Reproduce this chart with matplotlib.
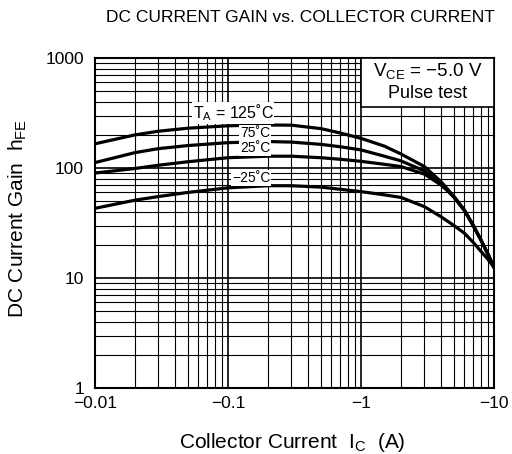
import matplotlib
matplotlib.use("Agg")
import matplotlib.pyplot as plt
from matplotlib.patches import Rectangle

plt.rcParams['font.family'] = ['Liberation Sans', 'DejaVu Sans']
plt.rcParams['mathtext.fontset'] = 'custom'
plt.rcParams['mathtext.rm'] = 'Liberation Sans'
plt.rcParams['mathtext.it'] = 'Liberation Sans'

# Collector current magnitude (A); axis labels shown as negative values
ic = [0.01, 0.02, 0.03, 0.05, 0.1, 0.2, 0.3, 0.5, 0.7, 1.0, 1.5, 2.0, 3.0, 4.0, 5.0, 6.0, 7.0, 8.0, 9.0, 10.0]
hfe_125 = [166, 200, 216, 230, 242, 246, 245, 228, 208, 186, 158, 134, 103, 75, 55, 41.5, 29.5, 22, 16.5, 12.5]
hfe_75 = [112, 138, 150, 160, 170, 174, 172, 164, 156, 146, 128, 116, 94, 72, 54, 41, 30, 22, 16.5, 12.5]
hfe_25 = [90, 99, 106, 114, 124, 128, 128, 124, 120, 115, 108, 103, 88, 70, 55, 41, 30, 22, 16.5, 12.5]
hfe_m25 = [43, 51, 55, 60, 66, 69, 69, 67, 64, 61, 57, 54, 44.5, 36, 30, 25.5, 21, 17.4, 14.8, 12.5]

x_ticks = [0.01, 0.1, 1, 10]
x_ticklabels = ["\u22120.01", "\u22120.1", "\u22121", "\u221210"]
y_ticks = [1, 10, 100, 1000]
y_ticklabels = ["1", "10", "100", "1000"]

fig = plt.figure(figsize=(5.12, 4.54), dpi=100)
ax = fig.add_axes([95/512, 1-388/454, (494-95)/512, (388-58)/454])
ax.set_xscale('log')
ax.set_yscale('log')
ax.set_xlim(0.01, 10)
ax.set_ylim(1, 1000)

ax.grid(True, which='major', color='black', lw=1.2)
ax.grid(True, which='minor', color='black', lw=0.8)
ax.set_axisbelow(True)
ax.set_xticks(x_ticks)
ax.set_xticklabels(x_ticklabels)
ax.set_yticks(y_ticks)
ax.set_yticklabels(y_ticklabels)
ax.tick_params(which='both', length=0, labelsize=12.5)
ax.tick_params(axis='y', pad=8)
ax.tick_params(axis='x', pad=6)
for s in ax.spines.values():
    s.set_linewidth(1.5)

for ys in [hfe_125, hfe_75, hfe_25, hfe_m25]:
    ax.plot(ic, ys, color='black', lw=2.3, solid_capstyle='round', zorder=3)

# annotation box
ax.add_patch(Rectangle((1, 355), 9, 645, facecolor='white', edgecolor='black',
                       lw=1.2, zorder=4, clip_on=False))
ax.text(3.16, 760, "V$_{\\mathregular{CE}}$ = \u22125.0 V",
        ha='center', va='center', fontsize=13.5, zorder=5)
ax.text(3.16, 480, "Pulse test", ha='center', va='center', fontsize=13, zorder=5)

bbox = dict(facecolor='white', edgecolor='none', pad=0.6)
ax.text(0.109, 316, "T$_{\\mathregular{A}}$ = 125\u02daC",
        ha='center', va='center', fontsize=11.5, bbox=bbox, zorder=5)
ax.text(0.16, 208, "75\u02daC", ha='center', va='center', fontsize=10, bbox=bbox, zorder=5)
ax.text(0.16, 151, "25\u02daC", ha='center', va='center', fontsize=10, bbox=bbox, zorder=5)
ax.text(0.15, 81, "\u221225\u02daC", ha='center', va='center', fontsize=10, bbox=bbox, zorder=5)

fig.text(300/512, 1-18/454, "DC CURRENT GAIN vs. COLLECTOR CURRENT", ha='center', va='center', fontsize=12.5)
fig.text(18/512, 1-219/454, "DC Current Gain  h$_{\\mathregular{FE}}$", rotation=90, ha='center', va='center', fontsize=15)
fig.text(292/512, 1-442/454, "Collector Current  I$_{\\mathregular{C}}$  (A)", ha='center', va='center', fontsize=15)

fig.savefig("out.png", dpi=100)
